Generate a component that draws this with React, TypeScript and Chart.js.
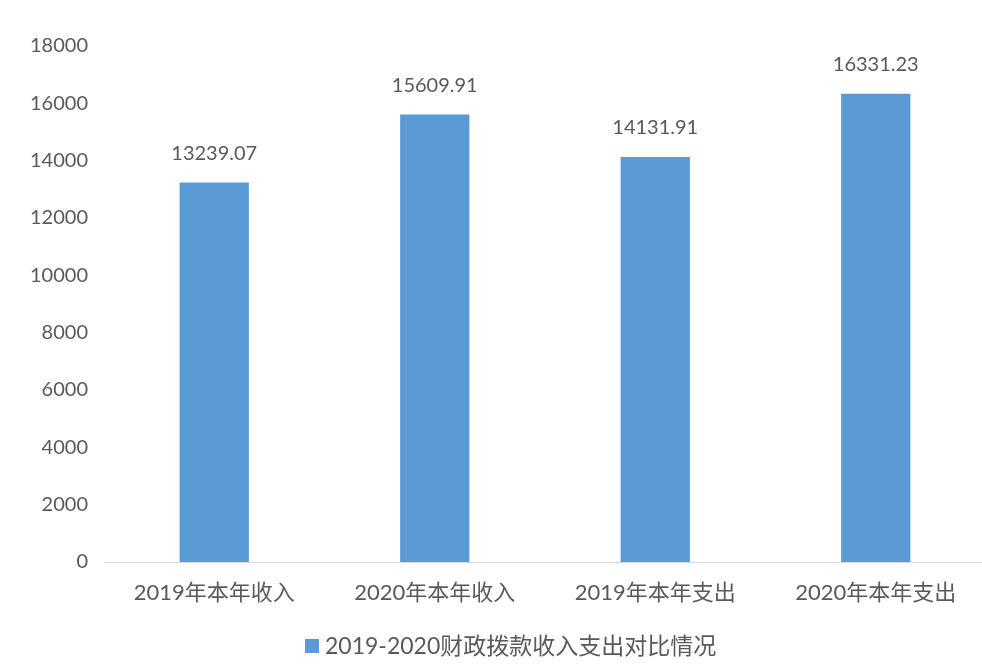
import React, { useEffect, useRef } from "react";
import { Chart, registerables } from "chart.js";

Chart.register(...registerables);

const categories = ["2019年本年收入", "2020年本年收入", "2019年本年支出", "2020年本年支出"];
const seriesName = "2019-2020财政拨款收入支出对比情况";
const seriesValues = [13239.07, 15609.91, 14131.91, 16331.23];
const yTicks = [0, 2000, 4000, 6000, 8000, 10000, 12000, 14000, 16000, 18000];

const FONT = "Lato, 'Noto Sans CJK SC', sans-serif";
const TEXT = "#595959";
const BAR = "#5B9BD5";

export default function App() {
  const ref = useRef<HTMLCanvasElement | null>(null);

  useEffect(() => {
    if (!ref.current) return;

    const valueLabels = {
      id: "valueLabels",
      afterDatasetsDraw(chart: any) {
        const ctx = chart.ctx;
        const meta = chart.getDatasetMeta(0);
        ctx.save();
        ctx.font = `20px ${FONT}`;
        ctx.fillStyle = TEXT;
        ctx.textAlign = "center";
        ctx.textBaseline = "middle";
        meta.data.forEach((el: any, i: number) => {
          const v = chart.data.datasets[0].data[i] as number;
          ctx.fillText(v.toFixed(2), el.x, el.y - 29);
        });
        ctx.restore();
      },
    };

    const customLegend = {
      id: "customLegend",
      afterDraw(chart: any) {
        const ctx = chart.ctx;
        const ds = chart.data.datasets[0];
        ctx.save();
        ctx.fillStyle = ds.backgroundColor;
        ctx.fillRect(305, 639, 14, 14);
        ctx.font = `23px ${FONT}`;
        ctx.fillStyle = TEXT;
        ctx.textAlign = "left";
        ctx.textBaseline = "middle";
        ctx.fillText(ds.label, 325, 647);
        ctx.restore();
      },
    };

    const chart = new Chart(ref.current, {
      type: "bar",
      data: {
        labels: categories,
        datasets: [
          {
            label: seriesName,
            data: seriesValues,
            backgroundColor: BAR,
            borderWidth: 0,
            barPercentage: 0.314,
            categoryPercentage: 1,
          },
        ],
      },
      options: {
        animation: false,
        responsive: true,
        maintainAspectRatio: false,
        layout: { padding: { top: 46, bottom: 42, left: 0, right: 0 } },
        plugins: {
          legend: { display: false },
          tooltip: { enabled: false },
        },
        scales: {
          x: {
            grid: { display: false, drawTicks: false },
            border: { display: true, color: "#D9D9D9", width: 1 },
            ticks: {
              color: TEXT,
              font: { family: FONT, size: 22 },
              padding: 18,
              maxRotation: 0,
              autoSkip: false,
            },
            afterFit: (s: any) => {
              s.height = 60;
            },
          },
          y: {
            min: 0,
            max: 18000,
            afterBuildTicks: (s: any) => {
              s.ticks = yTicks.map((v) => ({ value: v }));
            },
            grid: { display: false, drawTicks: false },
            border: { display: false },
            ticks: {
              color: TEXT,
              font: { family: FONT, size: 20 },
              padding: 16,
              callback: (v: any) => String(v),
            },
            afterFit: (s: any) => {
              s.width = 104;
            },
          },
        },
      },
      plugins: [valueLabels, customLegend],
    });

    return () => chart.destroy();
  }, []);

  return (
    <div
      style={{
        position: "fixed",
        left: 0,
        top: 0,
        width: 982,
        height: 664,
        overflow: "hidden",
        background: "#fff",
      }}
    >
      <div style={{ position: "relative", width: 986, height: 664 }}>
        <canvas ref={ref} />
      </div>
    </div>
  );
}
